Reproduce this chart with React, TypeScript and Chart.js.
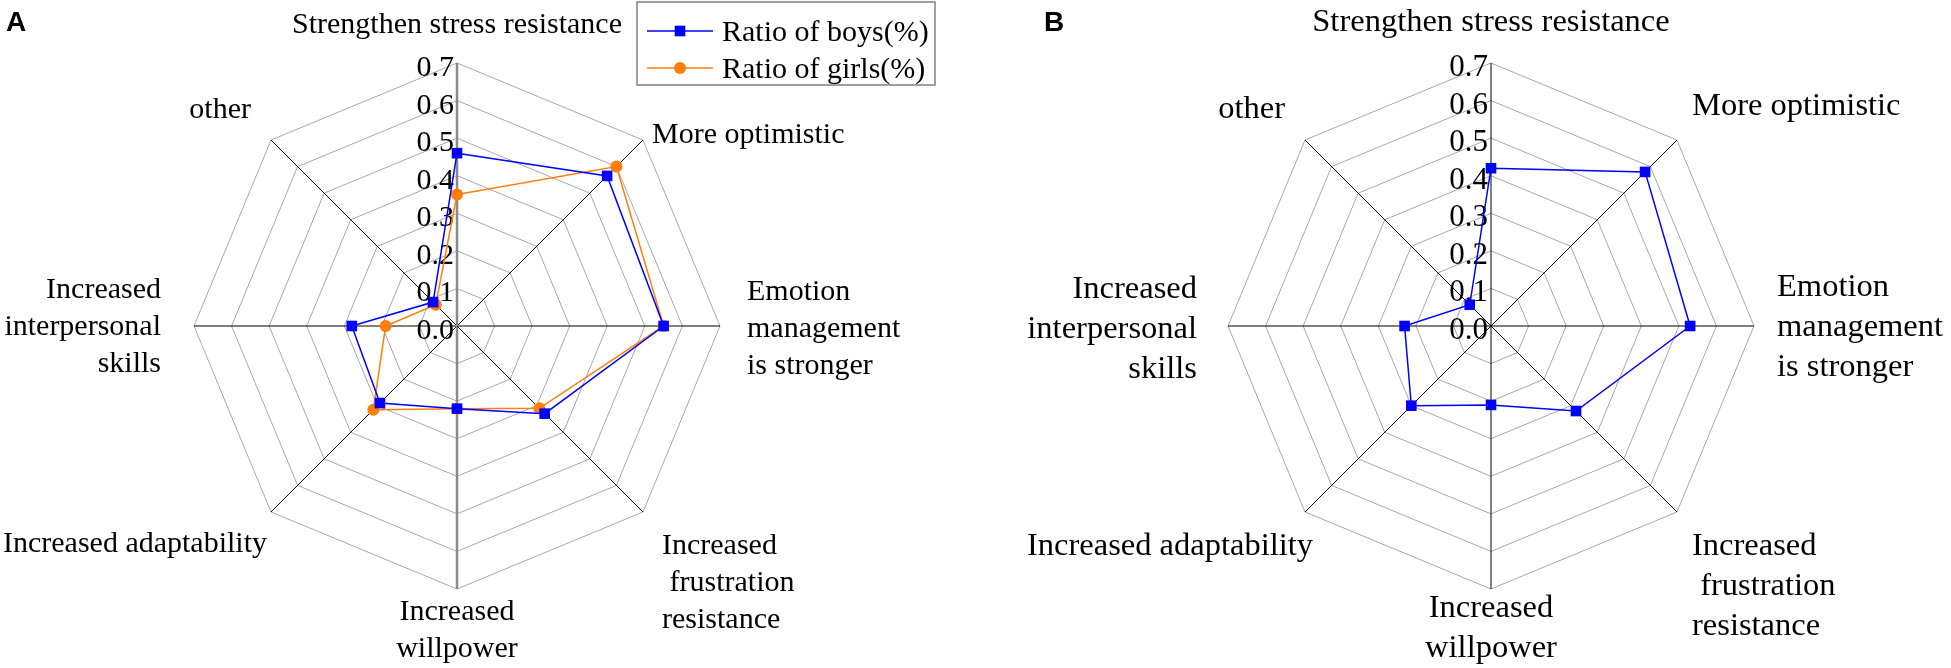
import React, { useEffect, useRef } from 'react';
import { Chart, registerables } from 'chart.js';

Chart.register(...registerables);

// axis names, clockwise from the top
const AXES = [
  ['Strengthen stress resistance'],
  ['More optimistic'],
  ['Emotion', 'management', 'is stronger'],
  ['Increased', ' frustration', 'resistance'],
  ['Increased', 'willpower'],
  ['Increased adaptability'],
  ['Increased', 'interpersonal', 'skills'],
  ['other'],
];
const SERIES = ['Ratio of boys(%)', 'Ratio of girls(%)'];
const BOYS_A = [0.46, 0.565, 0.55, 0.33, 0.22, 0.29, 0.28, 0.09];
const GIRLS_A = [0.35, 0.6, 0.55, 0.31, 0.22, 0.315, 0.19, 0.08];
const BOYS_B = [0.42, 0.58, 0.53, 0.32, 0.21, 0.3, 0.23, 0.08];
const R_MIN = 0;
const R_MAX = 0.7;
const R_STEP = 0.1;

const SERIF = "'Liberation Serif', 'Times New Roman', serif";

// where each axis name sits, relative to the centre: dx, baseline of first line, align
const LABELS_A: [number, number, CanvasTextAlign][] = [
  [0, -293, 'center'],
  [195, -183, 'left'],
  [290, -26, 'left'],
  [205, 228, 'left'],
  [0, 294, 'center'],
  [-190, 226, 'right'],
  [-296, -28, 'right'],
  [-206, -208, 'right'],
];
const LABELS_B: [number, number, CanvasTextAlign][] = [
  [0, -295, 'center'],
  [201, -211, 'left'],
  [286, -30, 'left'],
  [201, 229, 'left'],
  [0, 291, 'center'],
  [-178, 229, 'right'],
  [-294, -28, 'right'],
  [-206, -208, 'right'],
];

const BLUE = '#0000ff';
const ORANGE = '#ff7f0a';

const decor = {
  id: 'decor',
  beforeDatasetsDraw(chart: any) {
    const { ctx } = chart;
    const r = chart.scales.r;
    const o = chart.options.plugins.decor;
    ctx.save();
    ctx.fillStyle = '#000';
    ctx.font = `${o.tickSize}px ${SERIF}`;
    ctx.textAlign = 'right';
    ctx.textBaseline = 'alphabetic';
    r.ticks.forEach((t: any) => {
      const y = r.yCenter - r.getDistanceFromCenterForValue(t.value);
      ctx.fillText(t.value.toFixed(1), r.xCenter - 3, y + 13);
    });
    ctx.restore();
  },
  afterDraw(chart: any) {
    const { ctx } = chart;
    const r = chart.scales.r;
    const o = chart.options.plugins.decor;
    ctx.save();
    ctx.fillStyle = '#000';
    ctx.font = `${o.fontSize}px ${SERIF}`;
    ctx.textBaseline = 'alphabetic';
    AXES.forEach((lines, i) => {
      const [dx, dy, align] = o.labels[i];
      ctx.textAlign = align;
      lines.forEach((s, k) => ctx.fillText(s, r.xCenter + dx, r.yCenter + dy + k * o.lineHeight));
    });

    ctx.font = "bold 28px 'Liberation Sans', Arial, sans-serif";
    ctx.textAlign = 'left';
    ctx.fillText(o.panel, o.panelX, 31);

    if (o.legend) {
      const [lx, ly, lw, lh] = o.legend;
      ctx.strokeStyle = '#808080';
      ctx.lineWidth = 1.5;
      ctx.strokeRect(lx, ly, lw, lh);
      chart.data.datasets.forEach((ds: any, i: number) => {
        const y = ly + 29 + i * 37;
        ctx.strokeStyle = ds.borderColor;
        ctx.lineWidth = ds.borderWidth;
        ctx.beginPath();
        ctx.moveTo(lx + 10, y);
        ctx.lineTo(lx + 76, y);
        ctx.stroke();
        ctx.fillStyle = ds.pointBackgroundColor;
        ctx.beginPath();
        if (ds.pointStyle === 'rect') {
          const h = ds.pointRadius * Math.SQRT1_2;
          ctx.rect(lx + 43 - h, y - h, 2 * h, 2 * h);
        } else {
          ctx.arc(lx + 43, y, ds.pointRadius, 0, Math.PI * 2);
        }
        ctx.fill();
        ctx.fillStyle = '#000';
        ctx.font = `30px ${SERIF}`;
        ctx.fillText(ds.label, lx + 85, y + 10);
      });
    }
    ctx.restore();
  },
};

const series = (label: string, data: number[], color: string, style: string, radius: number) => ({
  label,
  data,
  borderColor: color,
  borderWidth: 1.5,
  pointBackgroundColor: color,
  pointBorderColor: color,
  pointBorderWidth: 0,
  pointStyle: style,
  pointRadius: radius,
  fill: false,
  tension: 0,
});

type PanelProps = {
  width: number;
  left: number;
  pad: { left: number; right: number; top: number; bottom: number };
  datasets: any[];
  labels: [number, number, CanvasTextAlign][];
  fontSize: number;
  tickSize: number;
  lineHeight: number;
  axisColor: string;
  axisWidth: number;
  panel: string;
  panelX: number;
  legend?: number[];
};

const RadarPanel = (p: PanelProps) => {
  const ref = useRef<HTMLCanvasElement>(null);

  useEffect(() => {
    if (!ref.current) return;
    const chart = new Chart(ref.current, {
      type: 'radar',
      data: { labels: AXES.map((a) => a.join(' ')), datasets: p.datasets },
      options: {
        responsive: false,
        animation: false,
        layout: { padding: p.pad },
        plugins: {
          legend: { display: false },
          tooltip: { enabled: false },
          // @ts-ignore
          decor: {
            labels: p.labels,
            fontSize: p.fontSize,
            tickSize: p.tickSize,
            lineHeight: p.lineHeight,
            panel: p.panel,
            panelX: p.panelX,
            legend: p.legend,
          },
        },
        scales: {
          r: {
            min: R_MIN,
            max: R_MAX,
            ticks: { stepSize: R_STEP, display: false },
            pointLabels: { display: false },
            grid: { color: '#a8a8a8', lineWidth: 1 },
            angleLines: {
              // the vertical axis carries the tick labels
              color: (c: any) => (c.index % 4 === 0 ? p.axisColor : '#000000'),
              lineWidth: (c: any) => (c.index % 4 === 0 ? p.axisWidth : 1),
            },
          },
        },
      },
      plugins: [decor],
    } as any);
    return () => chart.destroy();
  }, []);

  return (
    <canvas
      ref={ref}
      width={p.width}
      height={668}
      style={{ position: 'absolute', left: p.left, top: 0, width: p.width, height: 668 }}
    />
  );
};

export default function App() {
  const dsA = [
    series(SERIES[0], BOYS_A, BLUE, 'rect', 7.5),
    series(SERIES[1], GIRLS_A, ORANGE, 'circle', 6),
  ];
  const dsB = [series(SERIES[0], BOYS_B, BLUE, 'rect', 7.5)];
  return (
    <div style={{ position: 'fixed', left: 0, top: 0, width: 1951, height: 668, background: '#fff' }}>
      <RadarPanel
        width={1000}
        left={0}
        pad={{ left: 194, right: 280, top: 63, bottom: 79 }}
        datasets={dsA}
        labels={LABELS_A}
        fontSize={30}
        tickSize={30}
        lineHeight={37}
        axisColor="#8a8a8a"
        axisWidth={2.5}
        panel="A"
        panelX={6}
        legend={[637, 2, 298, 83]}
      />
      <RadarPanel
        width={951}
        left={1000}
        pad={{ left: 228, right: 197, top: 63, bottom: 79 }}
        datasets={dsB}
        labels={LABELS_B}
        fontSize={32.5}
        tickSize={31}
        lineHeight={40}
        axisColor="#000000"
        axisWidth={1}
        panel="B"
        panelX={44}
      />
    </div>
  );
}
